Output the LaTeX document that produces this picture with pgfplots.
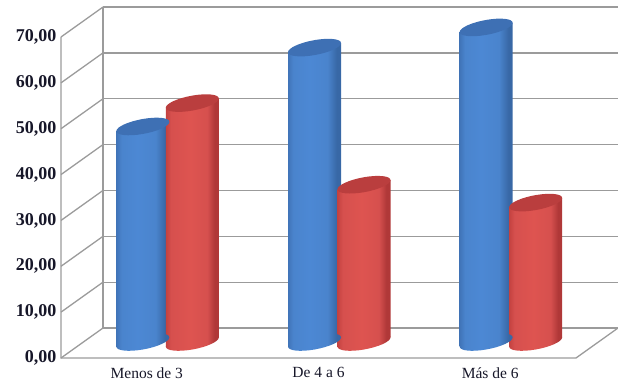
\documentclass[border=0pt]{standalone}
\usepackage{fontspec}
\setmainfont{Liberation Serif}
\usepackage{pgfplots}
\pgfplotsset{compat=1.18}

\definecolor{wall}{RGB}{155,155,155}
\definecolor{labelink}{RGB}{22,22,40}
\definecolor{bluedark}{RGB}{56,104,166}
\definecolor{blueedge}{RGB}{64,116,184}
\definecolor{bluemid}{RGB}{76,136,212}
\definecolor{bluelight}{RGB}{74,132,205}
\definecolor{bluetop}{RGB}{62,112,180}
\definecolor{reddark}{RGB}{176,56,56}
\definecolor{rededge}{RGB}{196,66,64}
\definecolor{redmid}{RGB}{222,84,80}
\definecolor{redlight}{RGB}{214,80,78}
\definecolor{redtop}{RGB}{186,62,62}

% Rounded look of the cylinder bodies
\pgfdeclarehorizontalshading{cylblue}{100bp}{
  color(0bp)=(blueedge); color(25bp)=(blueedge); color(30bp)=(bluelight);
  color(45bp)=(bluemid); color(62bp)=(bluelight); color(71bp)=(bluedark);
  color(75bp)=(bluedark); color(100bp)=(bluedark)}
\pgfdeclarehorizontalshading{cylred}{100bp}{
  color(0bp)=(rededge); color(25bp)=(rededge); color(30bp)=(redlight);
  color(48bp)=(redmid); color(64bp)=(redlight); color(71bp)=(reddark);
  color(75bp)=(reddark); color(100bp)=(reddark)}

% Slanted end caps of the cylinders
\newcommand{\capellipse}{\pgfpathellipse{\pgfpointorigin}{\pgfqpoint{26.5pt}{4.6pt}}{\pgfqpoint{0pt}{7.5pt}}}
\pgfdeclareplotmark{blueTop}{\pgfsetfillcolor{bluetop}\capellipse\pgfusepath{fill}}
\pgfdeclareplotmark{redTop}{\pgfsetfillcolor{redtop}\capellipse\pgfusepath{fill}}
\pgfdeclareplotmark{blueBase}{\capellipse\pgfshadepath{cylblue}{0}\pgfusepath{discard}}
\pgfdeclareplotmark{redBase}{\capellipse\pgfshadepath{cylred}{0}\pgfusepath{discard}}

\pgfplotsset{
  frame/.style={
    scale only axis, width=515pt, height=321pt,
    anchor=south west,
    xmin=-0.5, xmax=2.5, ymin=0, ymax=70,
    clip=false
  },
  wallline/.style={wall, line width=1.3pt, no markers, forget plot}
}

% One cylinder: colour name, position, value.
% The body is a slanted band that joins the tangent points of the two caps.
\newcommand{\cylinder}[3]{%
  \pgfmathsetmacro{\xl}{#2-0.1544}%
  \pgfmathsetmacro{\xr}{#2+0.1544}%
  \pgfmathsetmacro{\yl}{#3-1.003}%
  \pgfmathsetmacro{\yr}{#3+1.003}%
  \addplot[only marks, mark=#1Base] coordinates {(#2,0)};
  \addplot[draw=none, shade, shading=cyl#1, no markers]
    coordinates {(\xl,-1.003) (\xr,1.003) (\xr,\yr) (\xl,\yl)} --cycle;
  \addplot[only marks, mark=#1Top] coordinates {(#2,#3)};
}

\begin{document}
\begin{tikzpicture}[x=1pt,y=1pt]
\path[use as bounding box] (0,0) rectangle (618,383);

% Walls, floor and labelled scales
\begin{axis}[
  frame,
  at={(61pt,25pt)},
  axis line style={draw=none},
  tick style={draw=none},
  xtick={0,1,2},
  xticklabels={Menos de 3,De 4 a 6,Más de 6},
  ytick={0,10,20,30,40,50,60,70},
  xticklabel style={font=\fontsize{15.5}{16}\selectfont, text=labelink, yshift=-6pt},
  yticklabel style={font=\bfseries\fontsize{18}{18}\selectfont, text=labelink, xshift=-1pt},
  yticklabel={\pgfmathprintnumber[fixed,fixed zerofill,precision=2,use comma,assume math mode=true]{\tick}},
  unbounded coords=jump
]
% back wall rules
\addplot[wallline] coordinates {
  (-0.2553,6.54) (2.7447,6.54) (nan,nan)
  (-0.2553,16.54) (2.7447,16.54) (nan,nan)
  (-0.2553,26.54) (2.7447,26.54) (nan,nan)
  (-0.2553,36.54) (2.7447,36.54) (nan,nan)
  (-0.2553,46.54) (2.7447,46.54) (nan,nan)
  (-0.2553,56.54) (2.7447,56.54) (nan,nan)
  (-0.2553,66.54) (2.7447,66.54) (nan,nan)
  (-0.2553,76.54) (2.7447,76.54)
};
% side wall rules
\addplot[wallline] coordinates {
  (-0.5,0) (-0.2553,6.54) (nan,nan)
  (-0.5,10) (-0.2553,16.54) (nan,nan)
  (-0.5,20) (-0.2553,26.54) (nan,nan)
  (-0.5,30) (-0.2553,36.54) (nan,nan)
  (-0.5,40) (-0.2553,46.54) (nan,nan)
  (-0.5,50) (-0.2553,56.54) (nan,nan)
  (-0.5,60) (-0.2553,66.54) (nan,nan)
  (-0.5,70) (-0.2553,76.54)
};
% wall edges and the front of the floor
\addplot[wallline] coordinates {(-0.5,70) (-0.5,0) (2.5,0) (2.7447,6.54)};
\addplot[wallline] coordinates {(-0.2553,6.54) (-0.2553,76.54)};
\end{axis}

% Cylinders, standing half way into the floor
\begin{axis}[
  frame,
  at={(82pt,41pt)},
  hide axis
]
\cylinder{blue}{-0.1456}{47.0}
\cylinder{blue}{0.8544}{64.2}
\cylinder{blue}{1.8544}{68.6}
\cylinder{red}{0.1427}{52.1}
\cylinder{red}{1.1427}{34.3}
\cylinder{red}{2.1427}{30.4}
\end{axis}
\end{tikzpicture}
\end{document}
